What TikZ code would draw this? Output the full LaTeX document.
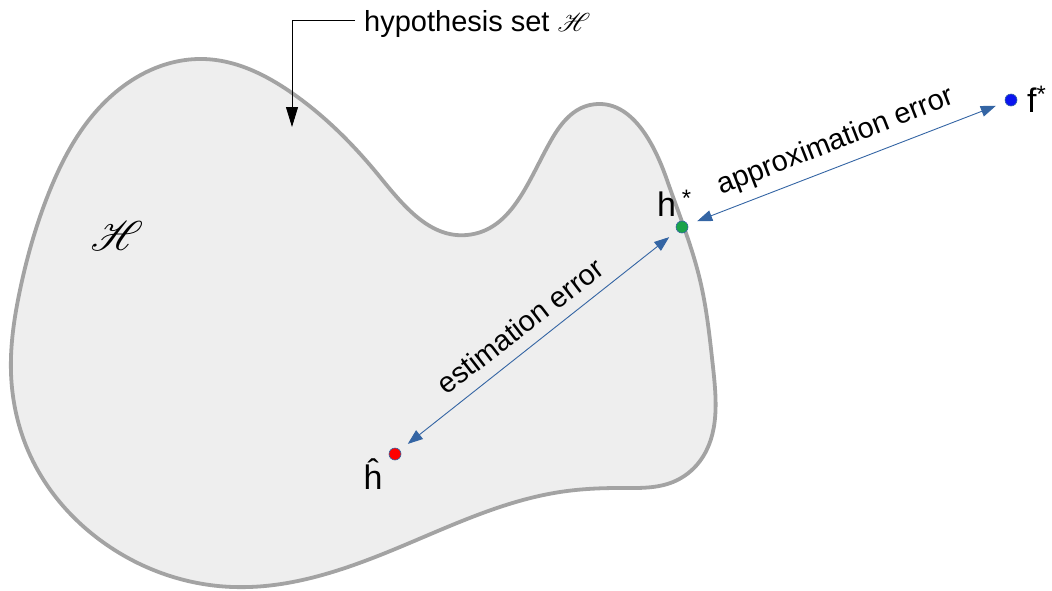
\documentclass[tikz,border=0pt]{standalone}
\usepackage{fontspec}
\setmainfont{Liberation Sans}
\usepackage{mathrsfs}
\usepackage{graphicx}
\usetikzlibrary{arrows.meta,hobby}
\definecolor{outl}{HTML}{A3A3A3}
\definecolor{blobfill}{HTML}{EEEEEE}
\definecolor{arrblue}{HTML}{3465A4}
\definecolor{dotgreen}{HTML}{1AA34A}
\definecolor{dotred}{HTML}{FF0000}
\definecolor{dotblue}{HTML}{0A14F0}
\tikzset{
  ptdot/.style={circle,draw=arrblue,line width=0.6pt,inner sep=0pt,minimum size=12pt},
  ptlabel/.style={inner sep=0pt,font=\fontsize{34}{40}\selectfont},
  errlabel/.style={inner sep=0pt,font=\fontsize{29}{34}\selectfont},
  errarrow/.style={arrblue,line width=0.9pt,{Triangle[length=15pt,width=11pt]}-{Triangle[length=15pt,width=11pt]},shorten <=10pt,shorten >=10pt},
  leader/.style={black,line width=0.9pt,-{Triangle[length=20pt,width=12pt]}}
}
\begin{document}
\begin{tikzpicture}[x=1pt,y=-1pt]
\useasboundingbox (0,0) rectangle (1052,590);
% blob
\draw[outl,line width=3.8pt,fill=blobfill] plot[closed hobby] coordinates {
 (11,373) (20,290) (50,190) (100,107) (203,59) (292,93) (380,177) (467,235)
 (553,137) (590,105) (667,180) (700,280) (713,367) (700,461) (673,482) (620,488)
 (560,492) (400,547) (233,587) (100,540) (30,455)};
% script H
\node[inner sep=0pt] (bigH) at (117,236) {\fontsize{24.88}{30}\selectfont\scalebox{1.67}{$\mathscr{H}$}};
% hypothesis label
\node[errlabel,anchor=base west] (hyp) at (364,31) {hypothesis set {\fontsize{24.88}{30}\selectfont\scalebox{1.04}{$\mathscr{H}$}}};
\coordinate (lstart) at (355,20);
\coordinate (lcorner) at (292,20);
\coordinate (ltip) at (292,127);
\draw[leader] (lstart) -- (lcorner) -- (ltip);
% points
\node[ptdot,fill=dotred] (hhat) at (395,454) {};
\node[ptdot,fill=dotgreen] (hstar) at (682,227) {};
\node[ptdot,fill=dotblue] (fstar) at (1011,100) {};
\node[ptlabel,anchor=base] (hhatlab) at (373,489) {ĥ};
\node[ptlabel,anchor=base west] (hstarlab) at (657,216) {h\,\textsuperscript{*}};
\node[ptlabel,anchor=base west] (fstarlab) at (1027,112) {f\textsuperscript{*}};
% arrows
\draw[errarrow] (hhat) -- (hstar);
\draw[errarrow] (hstar) -- (fstar);
\node[errlabel,rotate=37.6] (estlab) at (520,326) {estimation error};
\node[errlabel,rotate=21.4] (applab) at (836,142) {approximation error};
\end{tikzpicture}
\end{document}
